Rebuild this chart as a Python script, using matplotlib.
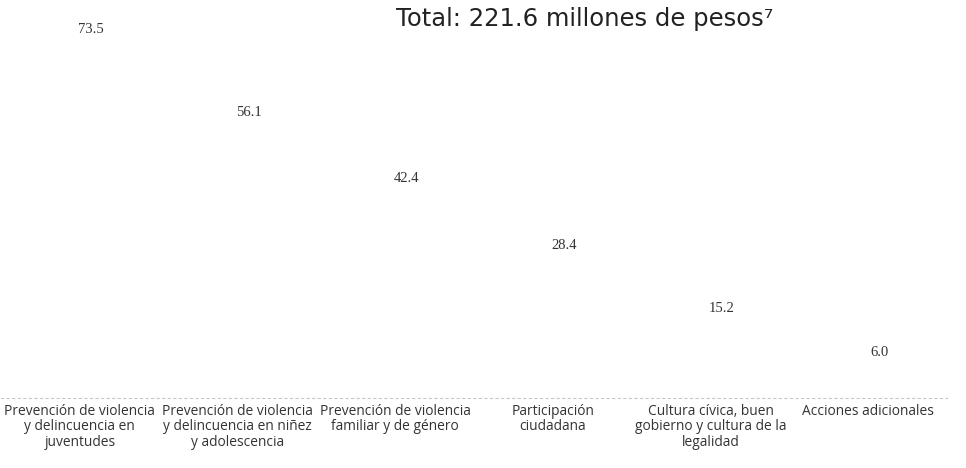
import matplotlib
matplotlib.use("Agg")
import matplotlib.pyplot as plt

categories = [
    "Prevención de violencia\ny delincuencia en\njuventudes",
    "Prevención de violencia\ny delincuencia en niñez\ny adolescencia",
    "Prevención de violencia\nfamiliar y de género",
    "Participación\nciudadana",
    "Cultura cívica, buen\ngobierno y cultura de la\nlegalidad",
    "Acciones adicionales",
]
values = [73.5, 56.1, 42.4, 28.4, 15.2, 6.0]
value_labels = ["73.5", "56.1", "42.4", "28.4", "15.2", "6.0"]
title = "Total: 221.6 millones de pesos⁷"

fig = plt.figure(figsize=(9.66, 4.68), dpi=100)
fig.patch.set_facecolor("white")
ax = fig.add_axes([1/966, 1 - 398/468, 946/966, 370/468])

x = list(range(len(categories)))
ax.bar(x, values, width=0.6, color="white", edgecolor="none")
ax.set_xlim(-0.5, len(categories) - 0.5)
ax.set_ylim(0, 77.2)

for xi, v, lab in zip(x, values, value_labels):
    ax.annotate(lab, (xi, v), xytext=(8, 12), textcoords="offset points",
                ha="center", va="center", fontsize=10.5,
                family=["Liberation Serif"], color="#333333")

for s in ["top", "right", "left"]:
    ax.spines[s].set_visible(False)
ax.spines["bottom"].set_color("#c8c8c8")
ax.spines["bottom"].set_linestyle((0, (2, 3)))
ax.spines["bottom"].set_linewidth(0.8)
ax.set_yticks([])
ax.set_xticks(x)
ax.set_xticklabels(categories, fontsize=9.9, family=["Open Sans", "DejaVu Sans"],
                   color="#333333", linespacing=1.05)
ax.tick_params(axis="x", length=0, pad=4)

fig.text(585/966, 1 - 19/468, title, ha="center", va="center", fontsize=17.5,
         family=["DejaVu Sans"], color="#222222")

fig.savefig("out.png", dpi=100, facecolor="white")
